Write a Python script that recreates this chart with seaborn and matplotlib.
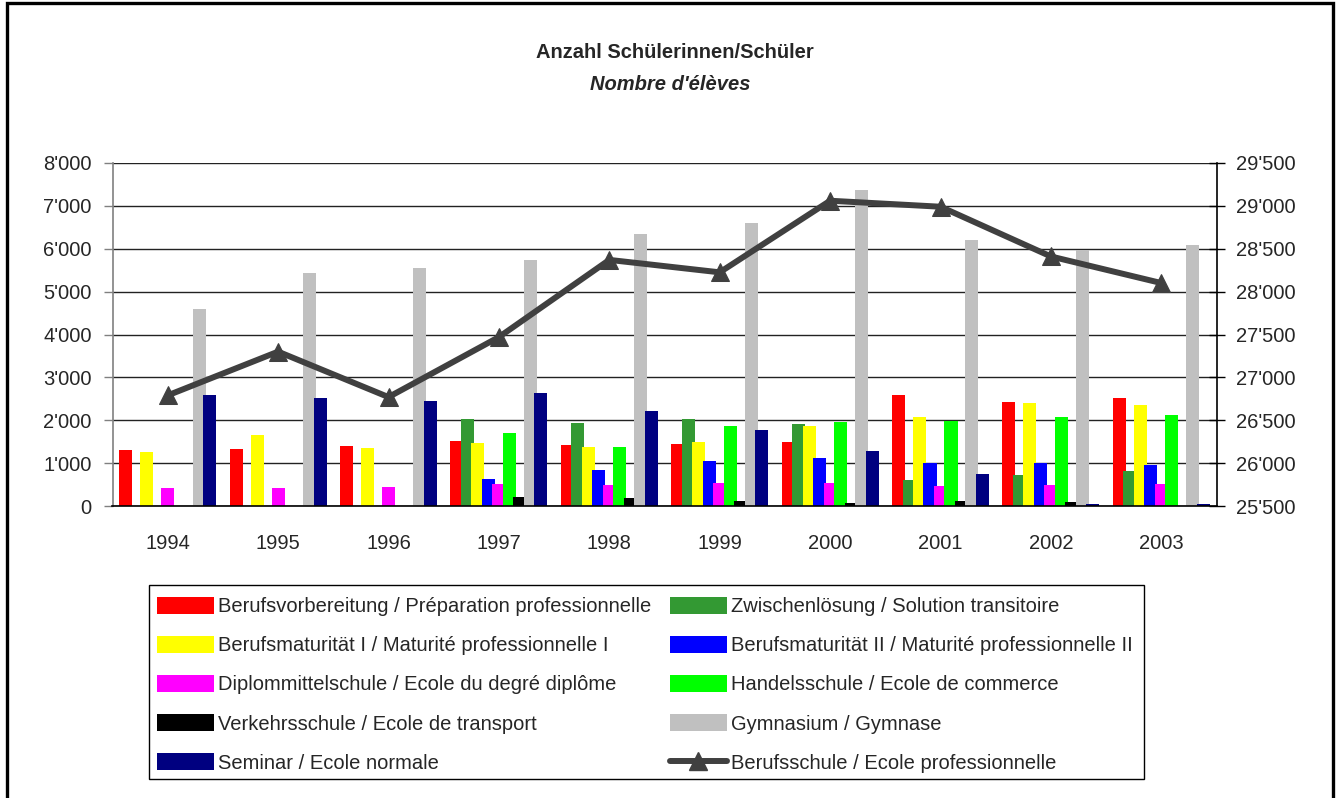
import numpy as np
import pandas as pd
import matplotlib
matplotlib.use("Agg")
import matplotlib.pyplot as plt
import seaborn as sns
from matplotlib.ticker import FuncFormatter, MultipleLocator
from matplotlib.lines import Line2D
from matplotlib.patches import Patch, Rectangle

# ---------------- data ----------------
years = ["1994", "1995", "1996", "1997", "1998", "1999", "2000", "2001", "2002", "2003"]

berufsvorbereitung = [1305, 1336, 1391, 1510, 1424, 1447, 1487, 2583, 2420, 2530]
zwischenloesung = [0, 0, 0, 2040, 1946, 2023, 1907, 600, 716, 826]
berufsmaturitaet_1 = [1266, 1648, 1352, 1463, 1370, 1487, 1876, 2086, 2413, 2366]
berufsmaturitaet_2 = [0, 0, 0, 623, 849, 1043, 1129, 996, 1013, 950]
diplommittelschule = [412, 412, 450, 506, 499, 530, 530, 476, 483, 506]
handelsschule = [0, 0, 0, 1713, 1377, 1876, 1953, 1993, 2077, 2117]
verkehrsschule = [0, 0, 0, 203, 180, 126, 70, 110, 103, 0]
gymnasium = [4592, 5430, 5550, 5727, 6350, 6606, 7366, 6193, 5960, 6084]
seminar = [2580, 2517, 2455, 2637, 2210, 1783, 1277, 740, 56, 47]
berufsschule = [26790, 27300, 26770, 27470, 28370, 28225, 29060, 28990, 28410, 28100]

bar_labels = [
    "Berufsvorbereitung / Préparation professionnelle",
    "Zwischenlösung / Solution transitoire",
    "Berufsmaturität I / Maturité professionnelle I",
    "Berufsmaturität II / Maturité professionnelle II",
    "Diplommittelschule / Ecole du degré diplôme",
    "Handelsschule / Ecole de commerce",
    "Verkehrsschule / Ecole de transport",
    "Gymnasium / Gymnase",
    "Seminar / Ecole normale",
]
line_label = "Berufsschule / Ecole professionnelle"
bar_series = [berufsvorbereitung, zwischenloesung, berufsmaturitaet_1, berufsmaturitaet_2,
              diplommittelschule, handelsschule, verkehrsschule, gymnasium, seminar]
bar_colors = ["#FF0000", "#339933", "#FFFF00", "#0000FF", "#FF00FF",
              "#00FF00", "#000000", "#C0C0C0", "#000080"]
line_color = "#404040"

title_1 = "Anzahl Schülerinnen/Schüler"
title_2 = "Nombre d'élèves"

# ---------------- style ----------------
sns.set_style("white")
plt.rcParams["font.family"] = ["Liberation Sans", "DejaVu Sans"]
FS = 14.5

df = pd.DataFrame(
    [(y, lab, v) for lab, vals in zip(bar_labels, bar_series) for y, v in zip(years, vals)],
    columns=["Jahr", "Serie", "Anzahl"],
)

W, H = 1342, 798
fig = plt.figure(figsize=(W / 100, H / 100), dpi=100)
fig.patch.set_facecolor("white")

ax = fig.add_axes([112.5 / W, 1 - 506 / H, (1216.5 - 112.5) / W, (506 - 163) / H])

step = 0.0951
bar_w = 0.1178
sns.barplot(data=df, x="Jahr", y="Anzahl", hue="Serie", hue_order=bar_labels,
            order=years, palette=bar_colors, saturation=1, width=9 * step,
            dodge=True, errorbar=None, legend=False, ax=ax, linewidth=0)
for p in ax.patches:
    cx = p.get_x() + p.get_width() / 2
    p.set_width(bar_w)
    p.set_x(cx - bar_w / 2)
    if p.get_height() == 0:
        p.set_visible(False)

ax.set_xlim(-0.5, len(years) - 0.5)
ax.set_ylim(0, 8000)
ax.yaxis.set_major_locator(MultipleLocator(1000))
fmt = FuncFormatter(lambda v, pos: f"{int(round(v)):,}".replace(",", "'"))
ax.yaxis.set_major_formatter(fmt)
ax.yaxis.grid(True, color="#222222", lw=1.0)
ax.xaxis.grid(False)
ax.set_axisbelow(True)
ax.set_xlabel("")
ax.set_ylabel("")

ax.set_xticks(np.arange(-0.5, len(years), 1.0))
ax.set_xticklabels([""] * (len(years) + 1))
ax.set_xticks(np.arange(len(years)), minor=True)
ax.set_xticklabels(years, minor=True)
ax.tick_params(axis="x", which="major", direction="out", length=5.5, width=1, color="black")
ax.tick_params(axis="x", which="minor", length=0, pad=20.5, labelsize=FS)
ax.tick_params(axis="y", which="major", direction="out", length=6.5, width=1,
               color="#808080", pad=8.5, labelsize=FS, left=True)

for s in ["top", "right"]:
    ax.spines[s].set_visible(False)
ax.spines["left"].set_color("#808080")
ax.spines["left"].set_linewidth(1.2)
ax.spines["bottom"].set_color("black")
ax.spines["bottom"].set_linewidth(1.2)

# secondary axis with line
ax2 = ax.twinx()
sns.lineplot(x=np.arange(len(years)), y=berufsschule, ax=ax2, color=line_color,
             lw=4.3, marker="^", markersize=13.5, markeredgecolor=line_color,
             markerfacecolor=line_color)
ax2.set_xlim(-0.5, len(years) - 0.5)
ax2.set_ylim(25500, 29500)
ax2.yaxis.set_major_locator(MultipleLocator(500))
ax2.yaxis.set_major_formatter(fmt)
ax2.tick_params(axis="y", which="major", direction="inout", length=12, width=1,
                color="black", pad=8, labelsize=FS, right=True)
ax2.grid(False)
ax2.set_ylabel("")
for s in ["top", "left", "bottom"]:
    ax2.spines[s].set_visible(False)
ax2.spines["right"].set_color("black")
ax2.spines["right"].set_linewidth(1.2)

# titles
fig.text(675 / W, 1 - 52 / H, title_1, ha="center", va="center",
         fontsize=FS, fontweight="bold")
fig.text(670 / W, 1 - 84 / H, title_2, ha="center", va="center",
         fontsize=FS, fontweight="bold", fontstyle="italic")

# legend (row-wise order as in reference)
handles = [Patch(facecolor=c, edgecolor="none") for c in bar_colors]
handles.append(Line2D([], [], color=line_color, lw=4.3, marker="^", markersize=13))
labels = bar_labels + [line_label]
order = [0, 2, 4, 6, 8, 1, 3, 5, 7, 9]
leg = fig.legend([handles[i] for i in order], [labels[i] for i in order], ncol=2,
                 loc="upper left", bbox_to_anchor=(145 / W, 1 - 585 / H),
                 frameon=False, fontsize=FS,
                 handlelength=2.84, handleheight=0.9, handletextpad=0.2,
                 columnspacing=0.9, labelspacing=0.98, borderpad=0.6,
                 borderaxespad=0, numpoints=1)
fig.patches.append(Rectangle((149 / W, 1 - 779 / H), (1144 - 149) / W, (779 - 585) / H,
                             transform=fig.transFigure, fill=False,
                             ec="black", lw=1.0))

# outer chart border
fig.patches.append(Rectangle((6.5 / W, -0.1), (1333 - 6.5) / W, 1.1 - 3 / H,
                             transform=fig.transFigure, fill=False,
                             ec="black", lw=2.4))

fig.savefig("out.png", dpi=100)
